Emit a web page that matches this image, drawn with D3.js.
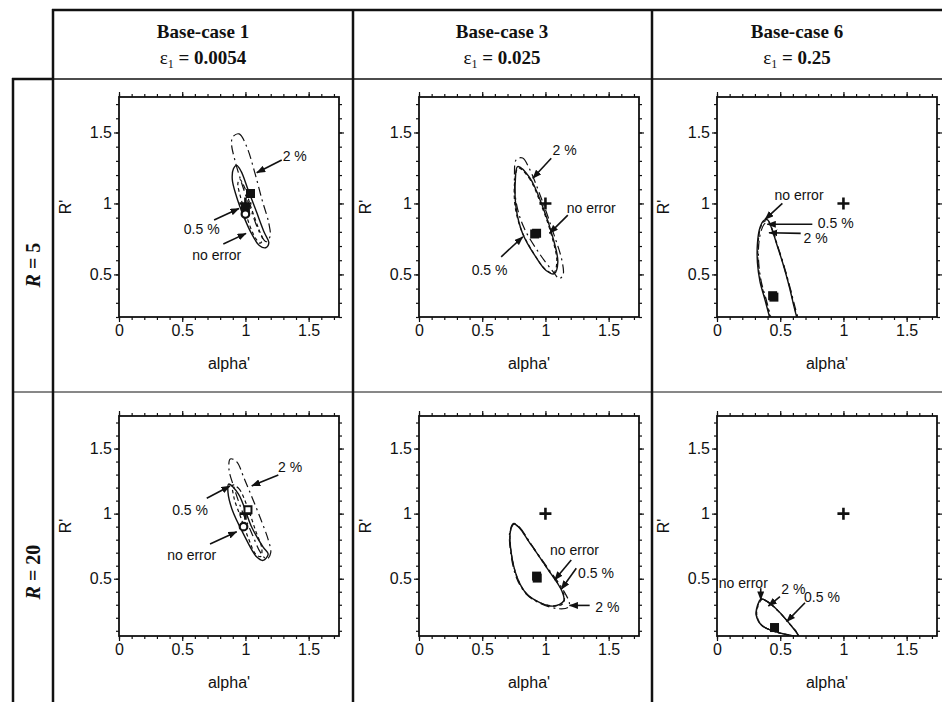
<!DOCTYPE html>
<html><head><meta charset="utf-8">
<script src="https://cdn.jsdelivr.net/npm/d3@7/dist/d3.min.js"></script>
<style>body{margin:0;background:#fff}</style>
</head><body><svg id="c" width="942" height="702"></svg>
<script>
// ---------- data ----------
const columnTitles = ["Base-case 1", "Base-case 3", "Base-case 6"];
const epsilonValues = ["0.0054", "0.025", "0.25"];
const rowValues = ["5", "20"];
const xTickValues = [0, 0.5, 1, 1.5];
const yTickValues = [0.5, 1, 1.5];
const xDomain = [0, 1.74];
const yDomainR5 = [0.2, 1.75];
const yDomainR20 = [0.06, 1.75];

// R = 5, Base-case 1
const r5c1NoError = [[0.93,1.268],[0.965,1.228],[1.02,1.099],[1.085,0.946],[1.15,0.793],[1.185,0.723],[1.16,0.688],[1.11,0.704],[1.045,0.793],[0.98,0.923],[0.928,1.052],[0.896,1.169],[0.905,1.244]];
const r5c1Half = [[0.955,1.17],[0.99,1.12],[1.045,0.97],[1.105,0.82],[1.135,0.745],[1.115,0.72],[1.065,0.78],[1.005,0.92],[0.96,1.05],[0.94,1.14]];
const r5c1Two = [[0.9,1.47],[0.95,1.49],[1.01,1.4],[1.07,1.23],[1.13,1.03],[1.185,0.86],[1.195,0.77],[1.165,0.73],[1.115,0.79],[1.045,0.95],[0.975,1.13],[0.915,1.31],[0.89,1.42]];
const r5c1Markers = [{type:"plus",x:1,y:1},{type:"square",x:1.04,y:1.07},{type:"square",x:1.0,y:0.965},{type:"circle",x:1.0,y:0.925}];
const r5c1Notes = [
  {text:"2 %", tx:1.39, ty:1.334, x1:1.287, y1:1.306, x2:1.089, y2:1.216},
  {text:"0.5 %", tx:0.654, ty:0.82, x1:0.752, y1:0.883, x2:0.949, y2:0.965},
  {text:"no error", tx:0.773, ty:0.636, x1:0.825, y1:0.714, x2:1.005, y2:0.789}
];

// R = 5, Base-case 3
const r5c2NoError = [[0.78,1.26],[0.873,1.185],[0.98,0.974],[1.058,0.763],[1.098,0.587],[1.07,0.505],[1.005,0.528],[0.926,0.62],[0.82,0.787],[0.767,0.974],[0.762,1.162]];
const r5c2Half = [[0.785,1.25],[0.87,1.18],[0.975,0.97],[1.05,0.77],[1.09,0.59],[1.065,0.51],[1.0,0.535],[0.92,0.63],[0.815,0.8],[0.76,0.98],[0.758,1.16]];
const r5c2Two = [[0.77,1.31],[0.82,1.32],[0.87,1.25],[0.97,1.03],[1.06,0.8],[1.13,0.6],[1.14,0.5],[1.11,0.47],[1.06,0.52],[0.95,0.65],[0.83,0.83],[0.77,1.0],[0.755,1.2]];
const r5c2Markers = [{type:"plus",x:1,y:1},{type:"square",x:0.93,y:0.79},{type:"square",x:0.915,y:0.785}];
const r5c2Notes = [
  {text:"2 %", tx:1.151, ty:1.376, x1:1.046, y1:1.318, x2:0.9, y2:1.177},
  {text:"no error", tx:1.362, ty:0.97, x1:1.177, y1:0.918, x2:1.032, y2:0.789},
  {text:"0.5 %", tx:0.558, ty:0.531, x1:0.65, y1:0.624, x2:0.821, y2:0.765}
];

// R = 5, Base-case 6 (open curves, cut by the lower axis)
const r5c3NoError = [[0.43,0.15],[0.38,0.32],[0.34,0.45],[0.32,0.58],[0.32,0.72],[0.34,0.83],[0.37,0.88],[0.4,0.885],[0.43,0.83],[0.47,0.72],[0.52,0.58],[0.57,0.42],[0.61,0.27],[0.645,0.15]];
const r5c3Half = [[0.435,0.15],[0.385,0.32],[0.345,0.45],[0.325,0.58],[0.325,0.72],[0.345,0.83],[0.375,0.875],[0.405,0.875],[0.435,0.82],[0.475,0.71],[0.525,0.57],[0.575,0.41],[0.615,0.26],[0.65,0.15]];
const r5c3Two = [[0.44,0.15],[0.39,0.32],[0.35,0.45],[0.33,0.58],[0.33,0.71],[0.35,0.81],[0.38,0.86],[0.41,0.86],[0.44,0.81],[0.48,0.7],[0.53,0.56],[0.58,0.4],[0.62,0.26],[0.655,0.15]];
const r5c3Markers = [{type:"plus",x:1,y:1},{type:"square",x:0.45,y:0.34},{type:"square",x:0.44,y:0.35}];
const r5c3Notes = [
  {text:"no error", tx:0.649, ty:1.059, x1:0.517, y1:1.0, x2:0.38, y2:0.888},
  {text:"0.5 %", tx:0.939, ty:0.86, x1:0.754, y1:0.853, x2:0.398, y2:0.853},
  {text:"2 %", tx:0.78, ty:0.754, x1:0.662, y1:0.789, x2:0.411, y2:0.794}
];

// R = 20, Base-case 1
const r20c1NoError = [[0.867,1.227],[0.945,1.15],[1.05,0.895],[1.14,0.743],[1.18,0.69],[1.14,0.641],[1.09,0.666],[0.984,0.845],[0.893,1.036],[0.862,1.163]];
const r20c1Half = [[0.9,1.22],[0.95,1.19],[1.02,1.04],[1.08,0.87],[1.13,0.73],[1.12,0.67],[1.08,0.69],[1.02,0.82],[0.96,0.98],[0.91,1.12]];
const r20c1Two = [[0.88,1.42],[0.93,1.4],[0.99,1.27],[1.05,1.13],[1.12,0.96],[1.18,0.8],[1.2,0.7],[1.17,0.65],[1.12,0.7],[1.05,0.85],[0.97,1.03],[0.91,1.2],[0.87,1.34]];
const r20c1Markers = [{type:"plus",x:1,y:1},{type:"openSquare",x:1.02,y:1.03},{type:"circle",x:0.985,y:0.9}];
const r20c1Notes = [
  {text:"2 %", tx:1.353, ty:1.36, x1:1.26, y1:1.297, x2:1.05, y2:1.213},
  {text:"0.5 %", tx:0.562, ty:1.028, x1:0.694, y1:1.118, x2:0.878, y2:1.212},
  {text:"no error", tx:0.575, ty:0.682, x1:0.72, y1:0.767, x2:0.931, y2:0.861}
];

// R = 20, Base-case 3
const r20c2NoError = [[0.75,0.92],[0.79,0.895],[0.88,0.77],[1.01,0.585],[1.13,0.405],[1.145,0.33],[1.065,0.29],[0.96,0.315],[0.855,0.38],[0.777,0.508],[0.724,0.74],[0.724,0.87]];
const r20c2Half = [[0.75,0.92],[0.79,0.895],[0.88,0.77],[1.01,0.585],[1.12,0.43],[1.15,0.36],[1.14,0.31],[1.07,0.29],[0.96,0.315],[0.855,0.38],[0.777,0.508],[0.724,0.74],[0.724,0.87]];
const r20c2Two = [[0.75,0.925],[0.8,0.89],[0.89,0.76],[1.02,0.58],[1.13,0.43],[1.19,0.31],[1.18,0.28],[1.1,0.27],[0.96,0.31],[0.85,0.38],[0.77,0.51],[0.72,0.74],[0.72,0.87]];
const r20c2Markers = [{type:"plus",x:1,y:1},{type:"square",x:0.93,y:0.52},{type:"square",x:0.935,y:0.505}];
const r20c2Notes = [
  {text:"no error", tx:1.23, ty:0.72, x1:1.204, y1:0.644, x2:1.072, y2:0.49},
  {text:"0.5 %", tx:1.4, ty:0.542, x1:1.244, y1:0.58, x2:1.125, y2:0.419},
  {text:"2 %", tx:1.49, ty:0.28, x1:1.35, y1:0.295, x2:1.19, y2:0.295}
];

// R = 20, Base-case 6
const r20c3NoError = [[0.35,0.345],[0.39,0.33],[0.455,0.28],[0.56,0.17],[0.64,0.06],[0.56,0.07],[0.455,0.095],[0.35,0.145],[0.31,0.22],[0.32,0.295]];
const r20c3Half = [[0.355,0.34],[0.395,0.325],[0.46,0.275],[0.565,0.165],[0.645,0.06],[0.565,0.068],[0.46,0.093],[0.355,0.143],[0.315,0.22],[0.325,0.29]];
const r20c3Two = [[0.352,0.342],[0.392,0.328],[0.457,0.278],[0.562,0.168],[0.642,0.06],[0.562,0.069],[0.457,0.094],[0.352,0.144],[0.312,0.22],[0.322,0.292]];
const r20c3Markers = [{type:"plus",x:1,y:1},{type:"square",x:0.455,y:0.125}];
const r20c3Notes = [
  {text:"no error", tx:0.208, ty:0.47, x1:0.346, y1:0.427, x2:0.346, y2:0.337},
  {text:"2 %", tx:0.604, ty:0.419, x1:0.498, y1:0.362, x2:0.406, y2:0.29},
  {text:"0.5 %", tx:0.83, ty:0.358, x1:0.696, y1:0.315, x2:0.551, y2:0.17}
];

// ---------- layout ----------
const colLeft = [119, 419, 717];
const rowTop = [97, 416];
const plotW = 220, plotH = 220;
const colMid = [203, 502, 797];

const panels = [
  {r:0,c:0,closed:true, curves:[r5c1NoError,r5c1Half,r5c1Two], markers:r5c1Markers, notes:r5c1Notes},
  {r:0,c:1,closed:true, curves:[r5c2NoError,r5c2Half,r5c2Two], markers:r5c2Markers, notes:r5c2Notes},
  {r:0,c:2,closed:false,curves:[r5c3NoError,r5c3Half,r5c3Two], markers:r5c3Markers, notes:r5c3Notes},
  {r:1,c:0,closed:true, curves:[r20c1NoError,r20c1Half,r20c1Two], markers:r20c1Markers, notes:r20c1Notes},
  {r:1,c:1,closed:true, curves:[r20c2NoError,r20c2Half,r20c2Two], markers:r20c2Markers, notes:r20c2Notes},
  {r:1,c:2,closed:true, curves:[r20c3NoError,r20c3Half,r20c3Two], markers:r20c3Markers, notes:r20c3Notes}
];
const curveStyles = [
  {dash:null, w:1.4},
  {dash:"3.5,3", w:1.2},
  {dash:"9,4,2,4", w:1.2}
];

const svg = d3.select("#c");
const ink = "#111";
const sans = "'Liberation Sans', Arial, sans-serif";
const serif = "'Liberation Serif', 'Times New Roman', serif";

const defs = svg.append("defs");
defs.append("marker").attr("id","arr").attr("markerUnits","userSpaceOnUse")
  .attr("markerWidth",9).attr("markerHeight",7).attr("refX",8.5).attr("refY",3.5)
  .attr("orient","auto")
  .append("path").attr("d","M0,0 L9,3.5 L0,7 Z").attr("fill",ink);

// ---------- table frame ----------
const frame = svg.append("g").attr("stroke", ink).attr("fill","none");
frame.append("line").attr("x1",52).attr("x2",942).attr("y1",10).attr("y2",10).attr("stroke-width",2.5);
frame.append("line").attr("x1",53).attr("x2",53).attr("y1",9).attr("y2",702).attr("stroke-width",2.5);
frame.append("line").attr("x1",13).attr("x2",942).attr("y1",79).attr("y2",79).attr("stroke-width",1.5);
frame.append("line").attr("x1",12).attr("x2",54).attr("y1",79).attr("y2",79).attr("stroke-width",2.5);
frame.append("line").attr("x1",13).attr("x2",13).attr("y1",78).attr("y2",702).attr("stroke-width",2.5);
frame.append("line").attr("x1",353).attr("x2",353).attr("y1",9).attr("y2",702).attr("stroke-width",2.5);
frame.append("line").attr("x1",652).attr("x2",652).attr("y1",9).attr("y2",702).attr("stroke-width",2.5);
frame.append("line").attr("x1",13).attr("x2",942).attr("y1",392).attr("y2",392).attr("stroke-width",1);

// headers
columnTitles.forEach((t,i)=>{
  svg.append("text").attr("x",colMid[i]).attr("y",38).attr("text-anchor","middle")
    .attr("font-family",serif).attr("font-weight","bold").attr("font-size",19).attr("fill",ink).text(t);
  const e = svg.append("text").attr("x",colMid[i]).attr("y",64).attr("text-anchor","middle")
    .attr("font-family",serif).attr("font-size",19).attr("fill",ink);
  e.append("tspan").text("ε");
  e.append("tspan").attr("font-size",12).attr("dy",4).text("1");
  e.append("tspan").attr("dy",-4).attr("font-weight","bold").text(" = " + epsilonValues[i]);
});

// row labels
const rowLabelY = [265, 572];
rowValues.forEach((v,i)=>{
  const t = svg.append("text").attr("transform",`translate(40,${rowLabelY[i]}) rotate(-90)`)
    .attr("text-anchor","middle").attr("font-family",serif).attr("font-weight","bold")
    .attr("font-size",20).attr("fill",ink);
  t.append("tspan").attr("font-style","italic").text("R");
  t.append("tspan").text(" = " + v);
});

// ---------- panels ----------
const xMinor = d3.range(0, 1.7401, 0.1);
panels.forEach((p,k)=>{
  const x0 = colLeft[p.c], y0 = rowTop[p.r];
  const x = d3.scaleLinear().domain(xDomain).range([x0, x0+plotW]);
  const y = d3.scaleLinear().domain(p.r===0 ? yDomainR5 : yDomainR20).range([y0+plotH, y0]);
  const yd = y.domain();
  const yMinor = d3.range(Math.ceil(yd[0]*10)/10, yd[1]+0.0001, 0.1);
  const g = svg.append("g");

  const fmt = d => String(d);
  const styleAxis = sel => { sel.select(".domain").remove(); sel.selectAll("line").attr("stroke",ink).attr("stroke-width",1.2);
    sel.selectAll("text").attr("font-family",sans).attr("font-size",16).attr("fill",ink); };

  g.append("g").attr("transform",`translate(0,${y0+plotH})`).call(d3.axisBottom(x).tickValues(xMinor).tickSize(3).tickFormat("")).call(styleAxis);
  g.append("g").attr("transform",`translate(0,${y0+plotH})`).call(d3.axisBottom(x).tickValues(xTickValues).tickSize(5).tickPadding(3).tickFormat(fmt)).call(styleAxis);
  g.append("g").attr("transform",`translate(0,${y0})`).call(d3.axisTop(x).tickValues(xMinor).tickSize(3).tickFormat("")).call(styleAxis);
  g.append("g").attr("transform",`translate(0,${y0})`).call(d3.axisTop(x).tickValues(xTickValues).tickSize(5).tickFormat("")).call(styleAxis);
  g.append("g").attr("transform",`translate(${x0},0)`).call(d3.axisLeft(y).tickValues(yMinor).tickSize(3).tickFormat("")).call(styleAxis);
  g.append("g").attr("transform",`translate(${x0},0)`).call(d3.axisLeft(y).tickValues(yTickValues).tickSize(5).tickPadding(2).tickFormat(fmt)).call(styleAxis);
  g.append("g").attr("transform",`translate(${x0+plotW},0)`).call(d3.axisRight(y).tickValues(yMinor).tickSize(3).tickFormat("")).call(styleAxis);
  g.append("g").attr("transform",`translate(${x0+plotW},0)`).call(d3.axisRight(y).tickValues(yTickValues).tickSize(5).tickFormat("")).call(styleAxis);

  g.append("rect").attr("x",x0).attr("y",y0).attr("width",plotW).attr("height",plotH)
    .attr("fill","none").attr("stroke",ink).attr("stroke-width",1.8);

  // axis titles
  g.append("text").attr("x",x0+plotW/2).attr("y",y0+plotH+52).attr("text-anchor","middle")
    .attr("font-family",sans).attr("font-size",16).attr("fill",ink).text("alpha'");
  g.append("text").attr("transform",`translate(${x0-48},${y0+plotH/2}) rotate(-90)`).attr("text-anchor","middle")
    .attr("font-family",sans).attr("font-size",16).attr("fill",ink).text("R'");

  // clip
  defs.append("clipPath").attr("id","clip"+k).append("rect").attr("x",x0).attr("y",y0).attr("width",plotW).attr("height",plotH);
  const inner = g.append("g").attr("clip-path",`url(#clip${k})`);

  const line = d3.line().x(d=>x(d[0])).y(d=>y(d[1]))
    .curve(p.closed ? d3.curveCatmullRomClosed.alpha(0.5) : d3.curveCatmullRom.alpha(0.5));
  p.curves.forEach((pts,i)=>{
    inner.append("path").attr("d",line(pts)).attr("fill","none").attr("stroke",ink)
      .attr("stroke-width",curveStyles[i].w).attr("stroke-dasharray",curveStyles[i].dash);
  });

  // markers
  p.markers.forEach(m=>{
    const cx = x(m.x), cy = y(m.y);
    if (m.type==="plus") {
      inner.append("path").attr("d",`M${cx-6},${cy}H${cx+6}M${cx},${cy-6}V${cy+6}`).attr("stroke",ink).attr("stroke-width",2.6);
    } else if (m.type==="square") {
      inner.append("rect").attr("x",cx-4.5).attr("y",cy-4.5).attr("width",9).attr("height",9).attr("fill",ink);
    } else if (m.type==="openSquare") {
      inner.append("rect").attr("x",cx-3.5).attr("y",cy-3.5).attr("width",7).attr("height",7).attr("fill","#fff").attr("stroke",ink).attr("stroke-width",2);
    } else if (m.type==="circle") {
      inner.append("circle").attr("cx",cx).attr("cy",cy).attr("r",3.8).attr("fill","#fff").attr("stroke",ink).attr("stroke-width",2.2);
    }
  });

  // annotations
  p.notes.forEach(n=>{
    g.append("line").attr("x1",x(n.x1)).attr("y1",y(n.y1)).attr("x2",x(n.x2)).attr("y2",y(n.y2))
      .attr("stroke",ink).attr("stroke-width",1.6).attr("marker-end","url(#arr)");
    g.append("text").attr("x",x(n.tx)).attr("y",y(n.ty)).attr("dy","0.35em").attr("text-anchor","middle")
      .attr("font-family",sans).attr("font-size",14).attr("fill",ink).text(n.text);
  });
});
</script>
</body></html>
